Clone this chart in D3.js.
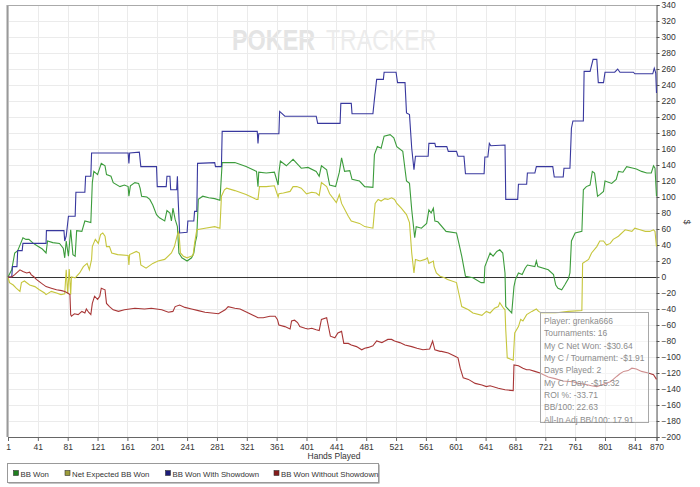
<!DOCTYPE html>
<html>
<head>
<meta charset="utf-8">
<script src="https://cdn.jsdelivr.net/npm/d3@7"></script>
<style>
  html, body { margin: 0; padding: 0; background: #fff; }
  svg { display: block; font-family: "Liberation Sans", Arial, sans-serif; }
</style>
</head>
<body>
<div id="chart"></div>
<script>
// [hand, BB] pairs
const bbWon = [[1,0],[6,9],[10,30],[14,33],[18,42],[21,49],[25,47],[29,47],[35,42],[40,39],[47,35],[52,30],[54,45],[61,43],[70,42],[75,36],[77,24],[79,45],[82,26],[85,59],[88,28],[91,26],[93,58],[100,57],[104,70],[112,68],[114,118],[116,132],[121,128],[126,142],[131,139],[133,128],[139,126],[142,118],[151,113],[157,115],[162,113],[163,101],[165,114],[171,118],[176,117],[178,111],[180,101],[187,100],[191,97],[195,90],[200,78],[204,74],[211,70],[214,83],[218,80],[220,70],[222,86],[225,72],[228,63],[230,30],[234,24],[241,20],[247,24],[250,30],[252,43],[254,51],[256,97],[262,101],[270,99],[278,98],[285,96],[288,143],
  [291,143],[305,143],[320,138],[334,132],[336,113],[337,131],[347,130],[358,131],[363,115],[364,130],[366,145],[374,139],[383,147],[388,142],[394,136],[403,137],[414,132],[418,126],[421,139],[428,134],[432,115],[440,113],[445,131],[448,149],[452,132],[459,133],[462,122],[472,120],[479,113],[490,112],[492,153],[496,163],[501,161],[505,176],[513,178],[518,174],[522,163],[530,157],[535,120],[539,117],[542,84],[546,49],[548,63],[555,61],[562,67],[565,84],[568,80],[571,86],[573,70],
  [577,69],[588,57],[602,55],[605,43],[609,26],[614,1],[624,-1],[635,-7],[639,-7],[640,13],[647,30],[651,26],[656,32],[660,34],[664,30],[667,5],[668,-37],[676,-45],[679,-12],[681,-3],[685,5],[690,3],[694,11],[697,15],[707,13],[709,20],[711,13],[725,9],[732,3],[735,-10],[738,-14],[743,-16],[747,-10],[752,-2],[754,5],[756,45],[761,55],[770,57],[772,109],[776,113],[781,115],[784,132],[787,130],[791,101],[794,103],[799,107],[801,120],[810,117],[816,122],[819,132],[825,131],[830,138],[839,136],[843,135],[850,132],[857,130],[863,130],[866,139],[868,136],[870,101]];

const netExpected = [[1,0],[3,-7],[8,-10],[12,-14],[17,-18],[19,-7],[23,-5],[30,-10],[37,-12],[43,-16],[50,-20],[52,-22],[59,-18],[66,-20],[72,-22],[77,-21],[79,9],[81,-21],[83,10],[85,-22],[86,0],[91,-1],[97,5],[102,13],[107,17],[110,9],[113,22],[114,38],[118,47],[122,42],[125,53],[128,55],[131,51],[133,38],[137,38],[140,30],[148,28],[162,27],[163,15],[164,28],[173,32],[177,30],[179,15],[186,11],[195,17],[202,20],[211,22],[220,30],[224,38],[228,53],[230,57],[232,30],[236,26],[241,24],[249,27],[251,42],[254,59],[265,61],[278,63],[285,61],[287,101],[291,109],
  [294,111],[305,108],[320,103],[334,97],[336,97],[338,113],[347,113],[358,114],[363,100],[364,104],[370,105],[379,107],[383,113],[388,113],[394,111],[401,104],[408,106],[414,105],[418,102],[421,118],[428,113],[432,104],[441,93],[445,103],[448,92],[457,76],[461,70],[472,67],[479,63],[490,61],[493,92],[497,97],[501,95],[506,98],[510,97],[515,99],[519,97],[522,92],[528,86],[535,78],[539,68],[542,30],[545,5],[547,22],[553,20],[560,22],[563,24],[565,17],[571,20],[572,13],[575,5],[580,1],[586,-1],
  [590,-3],[602,-7],[605,-20],[609,-37],[618,-41],[624,-45],[636,-48],[642,-43],[647,-45],[653,-39],[658,-37],[660,-32],[665,-39],[667,-41],[668,-66],[670,-101],[678,-104],[680,-70],[685,-62],[688,-53],[691,-55],[696,-47],[703,-43],[709,-40],[712,-43],[716,-45],[734,-45],[752,-43],[770,-42],[771,17],[779,22],[783,30],[790,38],[794,45],[799,45],[803,40],[808,42],[812,47],[819,51],[828,59],[837,57],[841,61],[848,59],[855,57],[861,57],[866,59],[868,57],[870,38]];

const wonShowdown = [[1,0],[6,0],[7,13],[13,13],[14,33],[20,33],[21,42],[52,42],[52.5,58],[76,58],[77,45],[79,51],[82,76],[91,76],[92,106],[104,106],[105,126],[112,126],[113,155],[162,155],[163,142],[164,155],[177,156],[179,138],[200,138],[201,113],[213,113],[214,126],[218,126],[219,109],[227,109],[228,126],[229,97],[231,55],[241,56],[242,70],[250,70],[251,82],[254,82],[255,142],[278,143],[279,138],[287,138],[288,182],
  [335,182],[336,167],[337,179],[364,179],[365,207],[372,201],[414,201],[416,192],[446,192],[447,217],[461,217],[462,204],[490,204],[492,222],[495,247],[504,247],[505,256],[521,256],[523,243],[533,243],[535,205],[539,203],[542,161],[545,134],[547,151],[564,151],[565,167],[573,167],[574,163],
  [589,163],[591,157],[602,157],[604,151],[612,151],[614,129],[639,129],[640,150],[644,150],[646,167],[648,164],[667,165],[668,97],[684,97],[685,116],[696,116],[697,130],[707,130],[709,138],[731,138],[733,125],[745,125],[746,136],[754,136],[756,186],[758,195],[772,195],[773,257],[781,257],[785,272],[790,272],[792,243],[799,243],[801,256],[814,256],[818,260],[821,256],[839,256],[841,254],[865,254],[867,261],[869,255],[870,230]];

const wonNoShowdown = [[1,0],[6,0],[10,3],[17,9],[21,7],[26,5],[30,6],[32,3],[36,0],[39,-3],[46,-8],[52,-12],[59,-14],[66,-16],[73,-17],[77,-18],[81,-20],[84,-22],[85,-47],[86,-49],[90,-46],[95,-47],[100,-43],[104,-45],[106,-40],[109,-44],[112,-47],[114,-33],[117,-24],[121,-28],[124,-24],[126,-14],[131,-16],[133,-33],[137,-37],[142,-41],[149,-43],[157,-41],[171,-39],[184,-40],[193,-39],[207,-41],[216,-44],[222,-43],[225,-37],[231,-35],[238,-38],[247,-40],[256,-42],[265,-44],[274,-45],[283,-46],[292,-41],
  [296,-37],[305,-39],[312,-40],[321,-44],[330,-48],[336,-51],[343,-51],[352,-49],[359,-49],[362,-53],[364,-60],[372,-62],[379,-65],[381,-55],[385,-54],[389,-57],[392,-62],[399,-64],[403,-65],[408,-64],[414,-66],[418,-67],[421,-53],[428,-51],[430,-60],[433,-74],[439,-76],[443,-70],[448,-68],[451,-83],[457,-83],[461,-85],[468,-87],[475,-91],[479,-89],[484,-88],[490,-86],[495,-80],[502,-82],[506,-80],[510,-78],[515,-78],[519,-80],[526,-82],[533,-85],[542,-87],[549,-89],[557,-91],[566,-90],[570,-80],[573,-91],[580,-93],
  [582,-93],[591,-95],[600,-99],[604,-101],[607,-114],[611,-126],[618,-128],[627,-133],[636,-135],[642,-137],[647,-136],[658,-139],[667,-141],[678,-142],[679,-110],[685,-111],[691,-114],[696,-116],[700,-116],[707,-118],[714,-120],[718,-122],[725,-125],[734,-127],[745,-130],[758,-131],[765,-133],[774,-134],[783,-136],[790,-137],[799,-134],[808,-131],[812,-128],[817,-124],[821,-121],[826,-118],[832,-117],[837,-114],[843,-115],[850,-118],[859,-120],[866,-122],[870,-128]];

const seriesNames = ['BB Won', 'Net Expected BB Won', 'BB Won With Showdown', 'BB Won Without Showdown'];
const xTicks = [1, 41, 81, 121, 161, 201, 241, 281, 321, 361, 401, 441, 481, 521, 561, 601, 641, 681, 721, 761, 801, 841, 870];
const yTicks = d3.range(-200, 341, 20);
const statLines = ['Player: grenka666', 'Tournaments: 16', 'My C Net Won: -$30.64', 'My C / Tournament: -$1.91',
  'Days Played: 2', 'My C / Day: -$15.32', 'ROI %: -33.71', 'BB/100: 22.63', 'All-In Adj BB/100: 17.91'];

(function () {
  const W = 700, H = 487;
  const lineColors = ['#3c9c3c', '#c6c63c', '#38389e', '#a83636'];
  const keyColors = ['#1f7f1f', '#9c9c3a', '#1c1c7a', '#861c1c'];

  const svg = d3.select('#chart').append('svg').attr('width', W).attr('height', H);

  const x = d3.scaleLinear().domain([1, 870]).range([8, 656.5]);
  const y = d3.scaleLinear().domain([-200, 340]).range([437, 5]);

  // watermark, squeezed horizontally
  svg.append('text').attr('transform', 'translate(232,50) scale(0.78,1)')
    .attr('font-size', 30).attr('font-weight', 700).attr('fill', '#e4e4e4').text('POKER');
  svg.append('text').attr('transform', 'translate(326,50) scale(0.77,1)')
    .attr('font-size', 30).attr('fill', '#ececec').text('TRACKER');

  // grid
  svg.append('g').selectAll('line').data(yTicks).join('line')
    .attr('x1', x(1)).attr('x2', x(870)).attr('y1', d => y(d) + 0.5).attr('y2', d => y(d) + 0.5)
    .attr('stroke', '#ebebeb');
  svg.append('g').selectAll('line').data(xTicks).join('line')
    .attr('x1', d => Math.round(x(d)) + 0.5).attr('x2', d => Math.round(x(d)) + 0.5)
    .attr('y1', y(340)).attr('y2', y(-200)).attr('stroke', '#ebebeb');

  // frame
  svg.append('line').attr('x1', 7.5).attr('x2', 7.5).attr('y1', 5).attr('y2', 437).attr('stroke', '#999').attr('stroke-width', 2);
  svg.append('line').attr('x1', 7).attr('x2', 656.5).attr('y1', 5.5).attr('y2', 5.5).attr('stroke', '#aaa');

  // zero line
  svg.append('line').attr('x1', x(1)).attr('x2', x(870)).attr('y1', y(0) + 0.5).attr('y2', y(0) + 0.5)
    .attr('stroke', '#333');

  // axes
  const xAxis = svg.append('g').attr('transform', `translate(0,${y(-200)})`)
    .call(d3.axisBottom(x).tickValues(xTicks).tickSize(4).tickPadding(3).tickFormat(d3.format('d')));
  xAxis.select('.domain').attr('stroke', '#666');
  xAxis.selectAll('line').attr('stroke', '#666');
  xAxis.selectAll('text').attr('fill', '#333').attr('font-size', 8.5).attr('font-family', '"Liberation Sans", Arial, sans-serif');

  const yAxis = svg.append('g').attr('transform', `translate(${x(870)},0)`)
    .call(d3.axisRight(y).tickValues(yTicks).tickSize(3).tickPadding(2));
  yAxis.select('.domain').attr('stroke', '#555');
  yAxis.selectAll('line').attr('stroke', '#555');
  yAxis.selectAll('text').attr('fill', '#333').attr('font-size', 8.5).attr('font-family', '"Liberation Sans", Arial, sans-serif');

  svg.append('text').attr('x', 334).attr('y', 459).attr('text-anchor', 'middle')
    .attr('font-size', 8.5).attr('fill', '#333').text('Hands Played');
  svg.append('text').attr('transform', 'translate(684,222) rotate(90)').attr('text-anchor', 'middle')
    .attr('font-size', 8.5).attr('fill', '#333').text('$');

  // series
  const line = d3.line().x(d => x(d[0])).y(d => y(d[1]));
  const series = [bbWon, netExpected, wonShowdown, wonNoShowdown];
  svg.append('g').selectAll('path').data(series).join('path')
    .attr('d', line)
    .attr('fill', 'none')
    .attr('stroke', (d, i) => lineColors[i])
    .attr('stroke-width', 1.1);

  // stats box
  svg.append('rect').attr('x', 540.5).attr('y', 312.5).attr('width', 108).attr('height', 110)
    .attr('fill', '#fff').attr('fill-opacity', 0.45).attr('stroke', '#a8a8a8');
  svg.append('g').selectAll('text').data(statLines).join('text')
    .attr('x', 544).attr('y', (d, i) => 324 + i * 12.35)
    .attr('font-size', 8.5).attr('fill', '#8c8c8c').text(d => d);

  // legend
  const lg = svg.append('g');
  lg.append('rect').attr('x', 8.5).attr('y', 464.5).attr('width', 371).attr('height', 19).attr('fill', '#888');
  lg.append('rect').attr('x', 7.5).attr('y', 463.5).attr('width', 371).attr('height', 19)
    .attr('fill', '#fff').attr('stroke', '#999');
  const keyX = [13.5, 65, 165.5, 274];
  seriesNames.forEach((name, i) => {
    lg.append('rect').attr('x', keyX[i]).attr('y', 470.5).attr('width', 5).attr('height', 5)
      .attr('fill', keyColors[i]).attr('stroke', '#333').attr('stroke-width', 0.6);
    lg.append('text').attr('x', keyX[i] + 7).attr('y', 476.5).attr('font-size', 7.8)
      .attr('fill', '#333').text(name);
  });
})();
</script>
</body>
</html>
